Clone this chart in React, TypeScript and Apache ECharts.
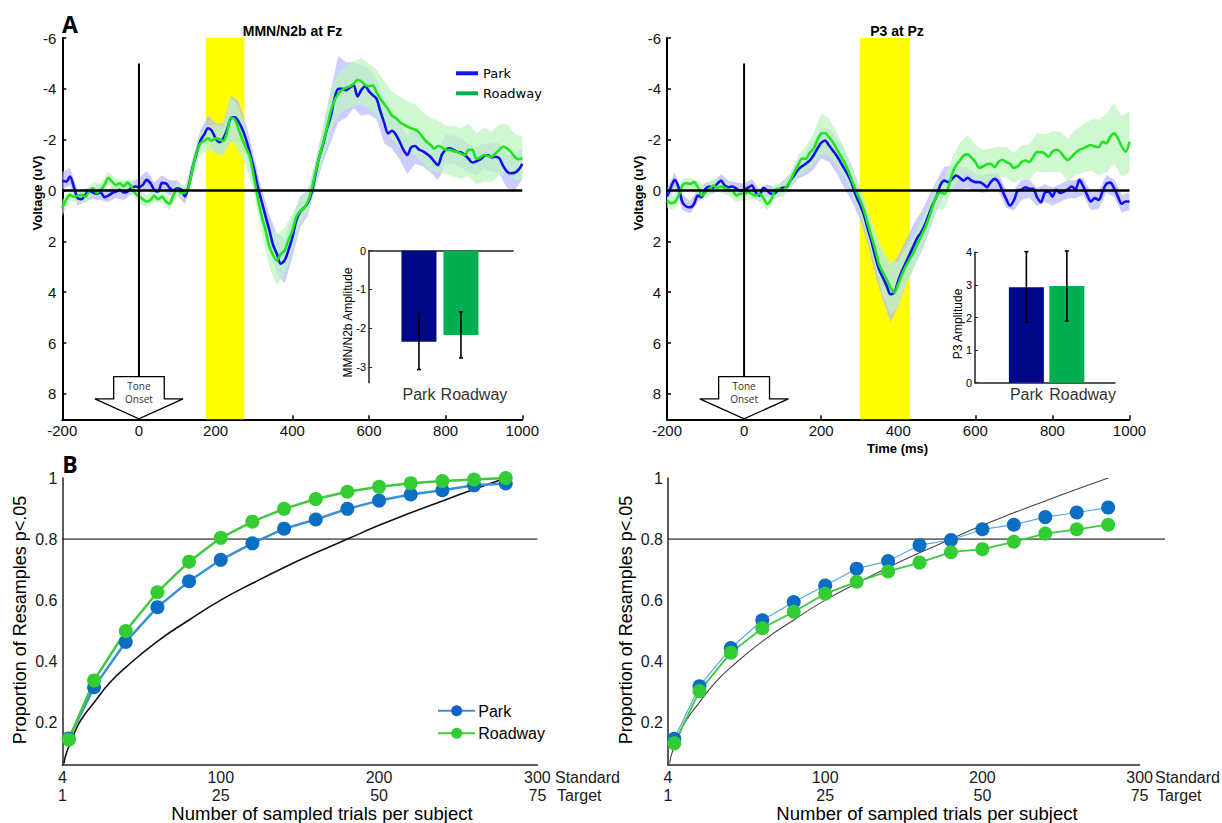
import React, { useEffect, useRef } from "react";
import * as echarts from "echarts";

// ---------- DATA ----------
const TIME_MS = Array.from({ length: 121 }, (_, i) => -200 + i * 10);
const SEM_TIME_MS = Array.from({ length: 61 }, (_, i) => -200 + i * 20);

const FZ_PARK = [
  -0.38, -0.35, -0.55, -0.15, 0.3, 0.34, 0.17, 0.0, 0.08, 0.13,
  0.08, 0.26, 0.2, 0.1, 0.04, -0.03, 0.08, 0.04, -0.1, -0.16,
  -0.13, -0.22, -0.42, -0.29, -0.03, 0.04, -0.3, -0.29, -0.1, 0.0,
  -0.09, -0.03, 0.23, -0.2, -0.9, -1.45, -1.95, -2.2, -2.45, -2.35,
  -2.05, -1.9, -2.05, -2.4, -2.85, -2.88, -2.7, -2.4, -1.98, -1.45,
  -0.85, -0.15, 0.43, 1.0, 1.55, 2.15, 2.5, 2.88, 2.75, 2.35,
  1.85, 1.2, 0.85, 0.69, 0.5, 0.1, -0.6, -1.3, -1.8, -2.4,
  -2.9, -3.6, -4.0, -4.0, -3.95, -4.05, -4.15, -3.7, -3.95, -4.1,
  -3.9, -3.75, -3.6, -3.1, -2.65, -2.25, -2.35, -2.2, -1.92, -1.6,
  -1.4, -1.7, -1.75, -1.62, -1.55, -1.45, -1.33, -1.15, -1.0, -1.4,
  -1.6, -1.66, -1.6, -1.52, -1.5, -1.4, -1.25, -1.1, -1.15, -1.22,
  -1.35, -1.39, -1.3, -1.33, -1.27, -0.97, -0.75, -0.68, -0.7, -0.81,
  -1.05,
];
const FZ_ROADWAY = [
  0.69, 0.37, 0.17, 0.24, 0.21, 0.17, 0.24, 0.04, -0.09, 0.1,
  -0.03, -0.22, -0.5, -0.35, -0.22, -0.29, -0.16, -0.31, -0.16, 0.1,
  0.24, 0.34, 0.43, 0.37, 0.21, 0.34, 0.24, 0.43, 0.52, 0.17,
  -0.03, 0.1, 0.08, -0.15, -0.87, -1.5, -1.85, -1.95, -2.05, -1.96,
  -2.05, -2.02, -1.94, -2.3, -2.85, -2.8, -2.4, -2.0, -1.65, -1.3,
  -0.5, 0.3, 1.0, 1.55, 2.2, 2.55, 2.75, 2.5, 2.35, 1.95,
  1.6, 1.05, 0.82, 0.7, 0.45, 0.0, -0.7, -1.3, -1.85, -2.44,
  -3.1, -3.55, -3.8, -3.95, -4.05, -4.1, -4.2, -4.36, -4.3, -4.15,
  -4.1, -4.13, -3.85, -3.6, -3.4, -3.2, -2.95, -2.85, -2.7, -2.6,
  -2.52, -2.45, -2.4, -2.3, -2.1, -1.92, -1.8, -1.65, -1.75, -1.7,
  -1.6, -1.6, -1.55, -1.52, -1.45, -1.39, -1.6, -1.6, -1.25, -1.3,
  -1.4, -1.36, -1.33, -1.46, -1.6, -1.73, -1.66, -1.53, -1.33, -1.23,
  -1.27,
];
const FZ_PARK_SEM = [
  0.35, 0.35, 0.3, 0.25, 0.25, 0.3, 0.25, 0.25, 0.3, 0.25,
  0.35, 0.35, 0.3, 0.3, 0.3, 0.3, 0.3, 0.35, 0.4, 0.5,
  0.6, 0.6, 0.9, 0.8, 0.6, 0.5, 0.5, 0.6, 0.8, 0.9,
  0.8, 0.6, 0.5, 0.5, 0.7, 1.0, 1.3, 1.1, 0.9, 1.0,
  0.9, 0.8, 0.8, 0.7, 0.7, 0.75, 0.7, 0.6, 0.6, 0.6,
  0.6, 0.55, 0.6, 0.55, 0.55, 0.5, 0.55, 0.6, 0.65, 0.7,
  0.6,
];
const FZ_ROADWAY_SEM = [
  0.3, 0.25, 0.25, 0.25, 0.25, 0.25, 0.25, 0.25, 0.25, 0.25,
  0.25, 0.25, 0.25, 0.25, 0.25, 0.25, 0.25, 0.3, 0.45, 0.5,
  0.55, 0.6, 0.85, 0.9, 0.7, 0.6, 0.7, 0.8, 1.0, 0.9,
  0.7, 0.5, 0.4, 0.45, 0.6, 0.8, 0.8, 0.85, 0.9, 0.9,
  0.9, 0.9, 0.9, 0.95, 1.0, 1.0, 1.0, 1.0, 1.05, 1.0,
  0.95, 1.0, 1.0, 1.05, 1.0, 1.05, 1.0, 1.0, 0.95, 0.9,
  0.85,
];

const PZ_PARK = [
  0.24, -0.13, -0.42, -0.13, 0.46, 0.63, 0.66, 0.53, 0.2, 0.26,
  -0.07, -0.16, -0.11, -0.26, -0.39, -0.2, -0.13, -0.16, -0.07, 0.0,
  -0.03, -0.11, -0.2, 0.07, 0.2, -0.11, 0.0, 0.13, 0.1, -0.03,
  -0.11, -0.13, -0.39, -0.59, -0.82, -0.95, -1.05, -1.18, -1.38, -1.64,
  -1.87, -1.97, -1.78, -1.58, -1.38, -1.12, -0.86, -0.59, -0.26, 0.2,
  0.53, 0.92, 1.45, 1.97, 2.57, 3.09, 3.42, 3.75, 4.08, 4.01,
  3.55, 3.16, 2.83, 2.5, 2.17, 1.84, 1.64, 1.32, 0.92, 0.53,
  0.2, -0.24, -0.39, -0.33, -0.46, -0.59, -0.5, -0.39, -0.5, -0.39,
  -0.33, -0.33, -0.26, -0.13, -0.33, -0.46, -0.33, 0.0, 0.33, 0.59,
  0.39, 0.0, -0.03, -0.13, -0.07, -0.07, 0.26, 0.46, 0.1, 0.04,
  0.24, -0.03, 0.1, 0.04, -0.05, -0.16, -0.05, -0.42, -0.16, 0.17,
  0.43, 0.3, 0.37, 0.04, -0.26, -0.31, -0.09, 0.24, 0.52, 0.43,
  0.43,
];
const PZ_ROADWAY = [
  0.39, 0.5, 0.46, 0.2, -0.2, -0.29, -0.26, -0.33, -0.13, 0.2,
  0.07, -0.07, -0.2, -0.11, -0.16, -0.11, -0.03, 0.0, 0.2, 0.13,
  0.13, 0.07, 0.13, 0.2, 0.13, 0.29, 0.53, 0.37, 0.0, -0.07,
  0.0, -0.16, -0.39, -0.72, -0.99, -1.25, -1.25, -1.47, -1.64, -1.97,
  -2.24, -2.26, -2.1, -1.91, -1.64, -1.38, -1.12, -0.79, -0.39, 0.0,
  0.33, 0.72, 1.25, 1.78, 2.3, 2.89, 3.22, 3.49, 3.82, 4.01,
  3.68, 3.29, 2.96, 2.7, 2.43, 2.1, 1.78, 1.45, 1.05, 0.59,
  0.2, 0.07, 0.13, -0.13, -0.66, -0.99, -1.18, -1.38, -1.42, -1.29,
  -1.12, -0.89, -0.95, -1.03, -1.05, -0.92, -1.12, -1.21, -1.12, -1.05,
  -0.89, -0.95, -1.12, -1.18, -1.12, -1.32, -1.51, -1.51, -1.46, -1.33,
  -1.53, -1.6, -1.53, -1.33, -1.2, -1.33, -1.49, -1.6, -1.66, -1.73,
  -1.79, -1.73, -1.7, -1.92, -1.86, -2.12, -2.25, -2.05, -1.73, -1.53,
  -1.92,
];
const PZ_PARK_SEM = [
  0.3, 0.3, 0.3, 0.25, 0.25, 0.25, 0.25, 0.25, 0.25, 0.25,
  0.25, 0.25, 0.25, 0.25, 0.25, 0.25, 0.3, 0.35, 0.45, 0.55,
  0.6, 0.65, 0.7, 0.75, 0.7, 0.6, 0.6, 0.75, 0.9, 1.1,
  1.0, 0.9, 0.85, 0.8, 0.7, 0.6, 0.55, 0.5, 0.45, 0.4,
  0.35, 0.35, 0.35, 0.35, 0.35, 0.4, 0.4, 0.35, 0.35, 0.35,
  0.35, 0.35, 0.35, 0.35, 0.35, 0.35, 0.35, 0.35, 0.35, 0.35,
  0.35,
];
const PZ_ROADWAY_SEM = [
  0.3, 0.3, 0.25, 0.25, 0.25, 0.25, 0.25, 0.25, 0.25, 0.25,
  0.25, 0.25, 0.25, 0.25, 0.3, 0.25, 0.3, 0.4, 0.5, 0.6,
  0.8, 0.75, 0.65, 0.55, 0.5, 0.5, 0.55, 0.7, 0.9, 1.05,
  0.9, 0.75, 0.65, 0.6, 0.55, 0.55, 0.6, 0.65, 0.7, 0.75,
  0.7, 0.65, 0.6, 0.6, 0.6, 0.6, 0.65, 0.7, 0.75, 0.75,
  0.8, 0.8, 0.85, 0.9, 0.95, 1.0, 1.1, 1.15, 1.2, 1.2,
  1.2,
];

const MMN_WINDOW = [175, 275];
const P3_WINDOW = [300, 430];
const VOLT_TICKS = [-6, -4, -2, 0, 2, 4, 6, 8];

const BAR_CATEGORIES = ["Park", "Roadway"];
const MMN_AMPLITUDE = [-2.35, -2.18];
const MMN_ERR_LOW = [-3.07, -2.77];
const MMN_ERR_HIGH = [-1.62, -1.58];
const MMN_TICKS = [0, -1, -2, -3];
const P3_AMPLITUDE = [2.93, 2.97];
const P3_ERR_LOW = [1.86, 1.89];
const P3_ERR_HIGH = [4.02, 4.04];

const STANDARD_TRIALS = [4, 20, 40, 60, 80, 100, 120, 140, 160, 180, 200, 220, 240, 260, 280];
const X_TICK_VALUES = [0, 100, 200, 300];
const STANDARD_LABELS = ["4", "100", "200", "300"];
const TARGET_LABELS = ["1", "25", "50", "75"];
const MMN_POWER_PARK = [0.147, 0.315, 0.463, 0.577, 0.662, 0.732, 0.786, 0.834, 0.864, 0.899, 0.926, 0.946, 0.96, 0.976, 0.982];
const MMN_POWER_ROADWAY = [0.143, 0.337, 0.499, 0.626, 0.726, 0.804, 0.857, 0.899, 0.931, 0.955, 0.971, 0.983, 0.99, 0.995, 1.0];
const P3_POWER_PARK = [0.146, 0.318, 0.443, 0.534, 0.594, 0.648, 0.703, 0.728, 0.78, 0.797, 0.832, 0.847, 0.872, 0.887, 0.903];
const P3_POWER_ROADWAY = [0.131, 0.302, 0.428, 0.508, 0.562, 0.621, 0.66, 0.694, 0.723, 0.757, 0.767, 0.791, 0.818, 0.832, 0.847];
const REF_CURVE_X = [1, 2, 4, 8, 12, 20, 30, 40, 60, 80, 100, 120, 140, 160, 180, 200, 220, 240, 260, 280];
const REF_CURVE_Y = [0.065, 0.09, 0.12, 0.17, 0.21, 0.265, 0.33, 0.38, 0.465, 0.535, 0.6, 0.655, 0.707, 0.755, 0.8, 0.845, 0.886, 0.925, 0.963, 1.0];
const PROP_TICKS = [0.2, 0.4, 0.6, 0.8, 1];
const CRITERION = 0.8;

// ---------- STYLE ----------
const FONT = "'Liberation Sans', Arial, sans-serif";
const PARK_TRACE = "#1010ee";
const ROAD_TRACE = "#1fe41f";
const PARK_BAND = "rgba(185,185,255,0.72)";
const ROAD_BAND = "rgba(190,245,190,0.72)";

function windowSeries(ai: number, win: number[]) {
  return {
    type: "custom", xAxisIndex: ai, yAxisIndex: ai, z: 1, silent: true,
    data: [win],
    renderItem: (_p: any, api: any) => {
      const a = api.coord([api.value(0), -6]);
      const b = api.coord([api.value(1), 9]);
      return {
        type: "rect",
        shape: { x: a[0], y: Math.min(a[1], b[1]), width: b[0] - a[0], height: Math.abs(b[1] - a[1]) },
        style: { fill: "#ffff00" },
      };
    },
  };
}

function bandSeries(ai: number, mean: number[], sem: number[], fill: string) {
  const pts = SEM_TIME_MS.map((t, j) => [t, mean[2 * j] - sem[j], mean[2 * j] + sem[j]]);
  return {
    type: "custom", xAxisIndex: ai, yAxisIndex: ai, z: 2, silent: true,
    data: pts,
    renderItem: (p: any, api: any) => {
      if (p.dataIndex !== 0) return null;
      const up = pts.map((q) => api.coord([q[0], q[2]]));
      const lo = pts.map((q) => api.coord([q[0], q[1]])).reverse();
      return { type: "polygon", shape: { points: up.concat(lo) }, style: { fill } };
    },
  };
}

function traceSeries(ai: number, name: string, mean: number[], color: string) {
  return {
    type: "line", name, xAxisIndex: ai, yAxisIndex: ai, z: 3, silent: true,
    data: TIME_MS.map((t, i) => [t, mean[i]]),
    symbol: "none", smooth: 0.3,
    lineStyle: { color, width: 2.6 },
  };
}

function refLines(ai: number) {
  return [
    {
      type: "line", xAxisIndex: ai, yAxisIndex: ai, z: 5, silent: true, symbol: "none",
      data: [[-200, 0], [1000, 0]], lineStyle: { color: "#000", width: 2.5 },
    },
    {
      type: "line", xAxisIndex: ai, yAxisIndex: ai, z: 5, silent: true, symbol: "none",
      data: [[0, -5], [0, 7.32]], lineStyle: { color: "#000", width: 2 },
    },
    {
      type: "custom", xAxisIndex: ai, yAxisIndex: ai, z: 6, silent: true, clip: false,
      data: [[0, 8]],
      renderItem: (_p: any, api: any) => {
        const c = (x: number, y: number) => api.coord([x, y]);
        const pts = [c(-66, 7.32), c(66, 7.32), c(66, 8.2), c(115, 8.2), c(0, 8.98), c(-115, 8.2), c(-66, 8.2)];
        const t1 = c(0, 7.7);
        const t2 = c(0, 8.22);
        const ts = { fill: "#333", font: "10px 'Open Sans', sans-serif", textAlign: "center", textVerticalAlign: "middle", align: "center", verticalAlign: "middle" };
        return {
          type: "group",
          children: [
            { type: "polygon", shape: { points: pts }, style: { fill: "#fff", stroke: "#000", lineWidth: 1.3 } },
            { type: "text", x: t1[0], y: t1[1], style: { ...ts, text: "Tone" } },
            { type: "text", x: t2[0], y: t2[1], style: { ...ts, text: "Onset" } },
          ],
        };
      },
    },
  ];
}

function errorSeries(xi: number, yi: number, lo: number[], hi: number[]) {
  return {
    type: "custom", xAxisIndex: xi, yAxisIndex: yi, z: 6, silent: true, clip: false,
    data: lo.map((l, i) => [i + 1, l, hi[i]]),
    renderItem: (_p: any, api: any) => {
      const x = api.value(0);
      const a = api.coord([x, api.value(1)]);
      const b = api.coord([x, api.value(2)]);
      const st = { stroke: "#000", lineWidth: 1.6 };
      return {
        type: "group",
        children: [
          { type: "line", shape: { x1: a[0], y1: a[1], x2: b[0], y2: b[1] }, style: st },
          { type: "line", shape: { x1: a[0] - 2, y1: a[1], x2: a[0] + 2, y2: a[1] }, style: st },
          { type: "line", shape: { x1: b[0] - 2, y1: b[1], x2: b[0] + 2, y2: b[1] }, style: st },
        ],
      };
    },
  };
}

function barSeries(xi: number, yi: number, vals: number[]) {
  const colors = ["#00088a", "#00b050"];
  return {
    type: "bar", xAxisIndex: xi, yAxisIndex: yi, barWidth: 35, z: 4, silent: true,
    data: vals.map((v, i) => ({ value: [i + 1, v], itemStyle: { color: colors[i] } })),
  };
}

function powerSeries(ai: number, park: number[], road: number[], thin: boolean) {
  return [
    {
      type: "line", xAxisIndex: ai, yAxisIndex: ai - 1, z: 3, silent: true, symbol: "none", smooth: true,
      data: REF_CURVE_X.map((x, i) => [x, REF_CURVE_Y[i]]),
      lineStyle: { color: thin ? "#444" : "#111", width: thin ? 1.1 : 1.6 },
    },
    {
      type: "line", xAxisIndex: ai, yAxisIndex: ai - 1, z: 4, silent: true,
      data: STANDARD_TRIALS.map((x, i) => [x, park[i]]),
      symbol: "circle", symbolSize: 14,
      itemStyle: { color: "#0a6ec4" },
      lineStyle: { color: thin ? "#5aa8e8" : "#3a90d8", width: thin ? 1.2 : 2.5 },
    },
    {
      type: "line", xAxisIndex: ai, yAxisIndex: ai - 1, z: 4, silent: true,
      data: STANDARD_TRIALS.map((x, i) => [x, road[i]]),
      symbol: "circle", symbolSize: 14,
      itemStyle: { color: "#33cc33" },
      lineStyle: { color: "#40c840", width: thin ? 1.8 : 2.5 },
    },
  ];
}

function criterionSeries(xi: number, yi: number, xEnd: number) {
  return {
    type: "line", xAxisIndex: xi, yAxisIndex: yi, z: 2, silent: true, symbol: "none",
    data: [[0, CRITERION], [xEnd, CRITERION]], lineStyle: { color: "#000", width: 1 },
  };
}

const topX = (g: number) => ({
  type: "value", gridIndex: g, min: -200, max: 1000, interval: 200,
  axisLine: { onZero: false, lineStyle: { color: "#000", width: 2 } },
  axisTick: { inside: true, length: 4, lineStyle: { color: "#000", width: 1.5 } },
  axisLabel: { color: "#111", fontSize: 15, fontFamily: FONT, margin: 4, formatter: (v: number) => String(v) },
  splitLine: { show: false },
});
const topY = (g: number) => ({
  type: "value", gridIndex: g, min: -6, max: 9, inverse: true,
  axisLine: { onZero: false, lineStyle: { color: "#000", width: 2 } },
  axisTick: { inside: true, length: 4, customValues: VOLT_TICKS, lineStyle: { color: "#000", width: 1.5 } },
  axisLabel: { customValues: VOLT_TICKS, color: "#111", fontSize: 15, fontFamily: FONT, margin: 6 },
  splitLine: { show: false },
});
const bottomX = (g: number) => ({
  type: "value", gridIndex: g, min: 0, max: 300, interval: 100,
  axisLine: { onZero: false, lineStyle: { color: "#262626", width: 1.5 } },
  axisTick: { show: false },
  axisLabel: {
    margin: 3,
    formatter: (v: number) => {
      const i = X_TICK_VALUES.indexOf(v);
      return `{s|${STANDARD_LABELS[i]}}\n{t|${TARGET_LABELS[i]}}`;
    },
    rich: {
      s: { fontSize: 16, lineHeight: 18, color: "#1a1a1a", fontFamily: FONT },
      t: { fontSize: 16, lineHeight: 18, color: "#1a1a1a", fontFamily: FONT },
    },
  },
  splitLine: { show: false },
});
const bottomY = (g: number) => ({
  type: "value", gridIndex: g, min: 0.06, max: 1,
  axisLine: { onZero: false, lineStyle: { color: "#262626", width: 1.5 } },
  axisTick: { show: false },
  axisLabel: { customValues: PROP_TICKS, color: "#1a1a1a", fontSize: 16, fontFamily: FONT, margin: 5, formatter: (v: number) => String(v) },
  splitLine: { show: false },
});

function txt(x: number, y: number, text: string, font: string, extra: any = {}) {
  return {
    type: "text", x, y, silent: true, ...extra,
    style: { text, font, fill: extra.fill || "#000", textAlign: extra.align || "center", textVerticalAlign: "middle" },
  };
}

function buildOption() {
  const R = Math.PI / 2;
  return {
    animation: false,
    backgroundColor: "#fff",
    grid: [
      { left: 62.3, top: 38, width: 460, height: 381.3 },
      { left: 667, top: 38, width: 462.5, height: 381.3 },
      { left: 369, top: 250.7, width: 144, height: 132 },
      { left: 975, top: 252.3, width: 140, height: 130.4 },
      { left: 62.4, top: 478, width: 475, height: 287 },
      { left: 668, top: 478, width: 471.6, height: 287 },
      { left: 668, top: 478, width: 497, height: 287 },
    ],
    xAxis: [
      topX(0),
      topX(1),
      {
        type: "value", gridIndex: 2, min: -0.19, max: 3.24, position: "bottom",
        axisLine: { show: false }, axisTick: { show: false }, splitLine: { show: false },
        axisLabel: { customValues: [1, 2.31], formatter: (v: number) => (v < 1.5 ? BAR_CATEGORIES[0] : BAR_CATEGORIES[1]), color: "#333", fontSize: 16, fontFamily: FONT, margin: 4 },
      },
      {
        type: "value", gridIndex: 2, min: 0, max: 1, position: "top",
        axisLine: { show: true, onZero: false, lineStyle: { color: "#222", width: 1.5 } },
        axisTick: { show: false }, axisLabel: { show: false }, splitLine: { show: false },
      },
      {
        type: "value", gridIndex: 3, min: -0.27, max: 3.19, position: "bottom",
        axisLine: { show: true, onZero: false, lineStyle: { color: "#222", width: 1.5 } },
        axisTick: { show: false }, splitLine: { show: false },
        axisLabel: { customValues: [1, 2.39], formatter: (v: number) => (v < 1.5 ? BAR_CATEGORIES[0] : BAR_CATEGORIES[1]), color: "#333", fontSize: 16, fontFamily: FONT, margin: 4 },
      },
      bottomX(4),
      bottomX(5),
      {
        type: "value", gridIndex: 6, min: 0, max: 1, show: false,
      },
    ],
    yAxis: [
      topY(0),
      topY(1),
      {
        type: "value", gridIndex: 2, min: -3.41, max: 0,
        axisLine: { onZero: false, lineStyle: { color: "#222", width: 1.5 } },
        axisTick: { inside: true, length: 3, customValues: MMN_TICKS },
        axisLabel: { customValues: MMN_TICKS, color: "#000", fontSize: 11, fontFamily: FONT, margin: 3 },
        splitLine: { show: false },
      },
      {
        type: "value", gridIndex: 3, min: 0, max: 4, interval: 1,
        axisLine: { onZero: false, lineStyle: { color: "#222", width: 1.5 } },
        axisTick: { inside: true, length: 3 },
        axisLabel: { color: "#000", fontSize: 11, fontFamily: FONT, margin: 3 },
        splitLine: { show: false },
      },
      bottomY(4),
      bottomY(5),
      { type: "value", gridIndex: 6, min: 0.06, max: 1, show: false },
    ],
    series: [
      windowSeries(0, MMN_WINDOW),
      bandSeries(0, FZ_PARK, FZ_PARK_SEM, PARK_BAND),
      bandSeries(0, FZ_ROADWAY, FZ_ROADWAY_SEM, ROAD_BAND),
      traceSeries(0, "Park", FZ_PARK, PARK_TRACE),
      traceSeries(0, "Roadway", FZ_ROADWAY, ROAD_TRACE),
      ...refLines(0),
      windowSeries(1, P3_WINDOW),
      bandSeries(1, PZ_PARK, PZ_PARK_SEM, PARK_BAND),
      bandSeries(1, PZ_ROADWAY, PZ_ROADWAY_SEM, ROAD_BAND),
      traceSeries(1, "Park", PZ_PARK, PARK_TRACE),
      traceSeries(1, "Roadway", PZ_ROADWAY, ROAD_TRACE),
      ...refLines(1),
      barSeries(2, 2, MMN_AMPLITUDE),
      errorSeries(2, 2, MMN_ERR_LOW, MMN_ERR_HIGH),
      barSeries(4, 3, P3_AMPLITUDE),
      errorSeries(4, 3, P3_ERR_LOW, P3_ERR_HIGH),
      criterionSeries(5, 4, 300),
      ...powerSeries(5, MMN_POWER_PARK, MMN_POWER_ROADWAY, false),
      criterionSeries(7, 6, 1),
      ...powerSeries(6, P3_POWER_PARK, P3_POWER_ROADWAY, true),
    ],
    graphic: [
      txt(70, 24, "A", "bold 23px 'Open Sans', sans-serif"),
      txt(70, 464, "B", "bold 23px 'Open Sans', sans-serif"),
      txt(292.5, 31, "MMN/N2b at Fz", `bold 14px ${FONT}`),
      txt(897, 31, "P3 at Pz", `bold 14px ${FONT}`),
      txt(37.7, 193, "Voltage (uV)", `bold 13px ${FONT}`, { rotation: R }),
      txt(638, 193, "Voltage (uV)", `bold 13px ${FONT}`, { rotation: R }),
      txt(897.5, 448, "Time (ms)", `bold 13px ${FONT}`),
      txt(348.3, 322.5, "MMN/N2b Amplitude", `12px ${FONT}`, { rotation: R }),
      txt(958.3, 324, "P3 Amplitude", `12px ${FONT}`, { rotation: R }),
      txt(20, 620, "Proportion of Resamples p<.05", `18px ${FONT}`, { rotation: R }),
      txt(625.7, 620, "Proportion of Resamples p<.05", `18px ${FONT}`, { rotation: R }),
      txt(322, 813.5, "Number of sampled trials per subject", `18.5px ${FONT}`),
      txt(927, 813.5, "Number of sampled trials per subject", `18.5px ${FONT}`),
      txt(555, 777, "Standard", `16px ${FONT}`, { align: "left", fill: "#1a1a1a" }),
      txt(557, 795, "Target", `16px ${FONT}`, { align: "left", fill: "#1a1a1a" }),
      txt(1155, 777, "Standard", `16px ${FONT}`, { align: "left", fill: "#1a1a1a" }),
      txt(1157, 795, "Target", `16px ${FONT}`, { align: "left", fill: "#1a1a1a" }),
      // top-left legend
      { type: "line", silent: true, shape: { x1: 456, y1: 73.3, x2: 478, y2: 73.3 }, style: { stroke: "#1515f0", lineWidth: 4 } },
      { type: "line", silent: true, shape: { x1: 456, y1: 93.3, x2: 478, y2: 93.3 }, style: { stroke: "#00b050", lineWidth: 4 } },
      txt(483, 73.3, "Park", "13px 'DejaVu Sans', sans-serif", { align: "left" }),
      txt(483, 93.3, "Roadway", "13px 'DejaVu Sans', sans-serif", { align: "left" }),
      // bottom-left legend
      { type: "line", silent: true, shape: { x1: 438, y1: 710.7, x2: 475, y2: 710.7 }, style: { stroke: "#3a90d8", lineWidth: 2 } },
      { type: "circle", silent: true, shape: { cx: 456.7, cy: 710.7, r: 5.5 }, style: { fill: "#1560c8" } },
      { type: "line", silent: true, shape: { x1: 438, y1: 733.3, x2: 475, y2: 733.3 }, style: { stroke: "#40c840", lineWidth: 2 } },
      { type: "circle", silent: true, shape: { cx: 456.7, cy: 733.3, r: 5.5 }, style: { fill: "#33cc33" } },
      txt(478.3, 711, "Park", `16px ${FONT}`, { align: "left" }),
      txt(478.3, 733.6, "Roadway", `16px ${FONT}`, { align: "left" }),
    ],
  };
}

export default function App() {
  const ref = useRef<HTMLDivElement>(null);
  useEffect(() => {
    if (!ref.current) return;
    const chart = echarts.init(ref.current, null, { renderer: "svg" });
    chart.setOption(buildOption() as any);
    return () => chart.dispose();
  }, []);
  return (
    <div
      ref={ref}
      style={{ position: "absolute", left: 0, top: 0, width: 1222, height: 823, background: "#fff" }}
    />
  );
}
